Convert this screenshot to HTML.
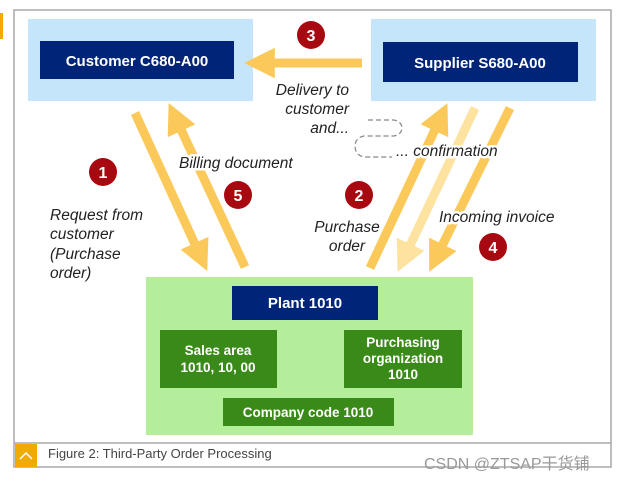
<!DOCTYPE html>
<html><head><meta charset="utf-8"><style>
html,body{margin:0;padding:0;background:#fff;}
svg{display:block;font-family:"Liberation Sans",Arial,sans-serif;}
</style></head><body>
<svg width="623" height="483" viewBox="0 0 623 483" xmlns="http://www.w3.org/2000/svg">
<defs>
<marker id="ah" markerWidth="3.4" markerHeight="3.4" refX="1.2" refY="1.7" orient="auto" markerUnits="strokeWidth">
<path d="M0,0 L3.4,1.7 L0,3.4 z" fill="#fbc95a"/></marker>
<marker id="ahl" markerWidth="3.4" markerHeight="3.4" refX="1.2" refY="1.7" orient="auto" markerUnits="strokeWidth">
<path d="M0,0 L3.4,1.7 L0,3.4 z" fill="#fde2a0"/></marker>
</defs>
<rect x="14" y="10" width="597" height="457" fill="#fff" stroke="#a8a8a8" stroke-width="1.5"/>
<rect x="0" y="13" width="3" height="26" fill="#f0ab00"/>
<rect x="28" y="19" width="225" height="82" fill="#c5e5fb"/>
<rect x="40" y="41" width="194" height="38" fill="#002478"/>
<text x="137" y="66" font-size="15" font-weight="bold" fill="#fff" text-anchor="middle">Customer C680-A00</text>
<rect x="371" y="19" width="225" height="82" fill="#c5e5fb"/>
<rect x="383" y="42" width="195" height="40" fill="#002478"/>
<text x="480" y="68" font-size="15" font-weight="bold" fill="#fff" text-anchor="middle">Supplier S680-A00</text>
<g stroke-width="9" fill="none" stroke-linecap="butt">
<line x1="362" y1="63" x2="264" y2="63" stroke="#fbc95a" marker-end="url(#ah)"/>
<line x1="135" y1="113" x2="199" y2="253" stroke="#fbc95a" marker-end="url(#ah)"/>
<line x1="245" y1="267" x2="177" y2="121" stroke="#fbc95a" marker-end="url(#ah)"/>
<line x1="370" y1="268" x2="439" y2="121" stroke="#fbc95a" marker-end="url(#ah)"/>
<line x1="475" y1="108" x2="406" y2="254" stroke="#fde2a0" marker-end="url(#ahl)"/>
<line x1="510" y1="108" x2="438" y2="254" stroke="#fbc95a" marker-end="url(#ah)"/>
</g>
<path d="M368,120 L394,120 Q402,122 402,128 Q402,134 394,136 L364,136 Q355,138 355,146 Q355,155 364,157 L392,157" fill="none" stroke="#888" stroke-width="1.2" stroke-dasharray="5,3"/>
<g font-size="15.5" font-style="italic" fill="#222" stroke="#fff" stroke-width="5" paint-order="stroke" stroke-linejoin="round">
<text x="349" y="95" text-anchor="end">Delivery to</text>
<text x="349" y="114" text-anchor="end">customer</text>
<text x="349" y="133" text-anchor="end">and...</text>
<text x="396" y="156">... confirmation</text>
<text x="179" y="168">Billing document</text>
<text x="50" y="220">Request from</text>
<text x="50" y="239">customer</text>
<text x="50" y="259">(Purchase</text>
<text x="50" y="278">order)</text>
<text x="347" y="232" text-anchor="middle">Purchase</text>
<text x="347" y="251" text-anchor="middle">order</text>
<text x="439" y="222">Incoming invoice</text>
</g>
<g fill="#a8080f">
<circle cx="311" cy="35" r="14"/><circle cx="103" cy="172" r="14"/>
<circle cx="238" cy="195" r="14"/><circle cx="359" cy="195" r="14"/>
<circle cx="493" cy="247" r="14"/>
</g>
<g font-size="16" font-weight="bold" fill="#fff" text-anchor="middle">
<text x="311" y="41">3</text><text x="103" y="178">1</text>
<text x="238" y="201">5</text><text x="359" y="201">2</text>
<text x="493" y="253">4</text>
</g>
<rect x="146" y="277" width="327" height="158" fill="#b4ee9a"/>
<rect x="232" y="286" width="146" height="34" fill="#002478"/>
<text x="305" y="308" font-size="15" font-weight="bold" fill="#fff" text-anchor="middle">Plant 1010</text>
<g fill="#3a8a1a">
<rect x="160" y="330" width="117" height="58"/>
<rect x="344" y="330" width="118" height="58"/>
<rect x="223" y="398" width="171" height="28"/>
</g>
<g font-size="13.5" font-weight="bold" fill="#fff" text-anchor="middle">
<text x="218" y="355">Sales area</text>
<text x="218" y="372">1010, 10, 00</text>
<text x="403" y="347">Purchasing</text>
<text x="403" y="363">organization</text>
<text x="403" y="379">1010</text>
<text x="308" y="417">Company code 1010</text>
</g>
<line x1="14" y1="443" x2="611" y2="443" stroke="#a8a8a8" stroke-width="1.5"/>
<rect x="15" y="444" width="22" height="23" fill="#f0ab00"/>
<path d="M20,459 L26,453 L32,459" fill="none" stroke="#fff" stroke-width="1.5"/>
<text x="48" y="458" font-size="13" fill="#444">Figure 2: Third-Party Order Processing</text>
<text x="424" y="469" font-family="Liberation Sans,Noto Sans CJK SC,sans-serif" font-size="16" fill="#999">CSDN @ZTSAP干货铺</text>
</svg>
</body></html>
